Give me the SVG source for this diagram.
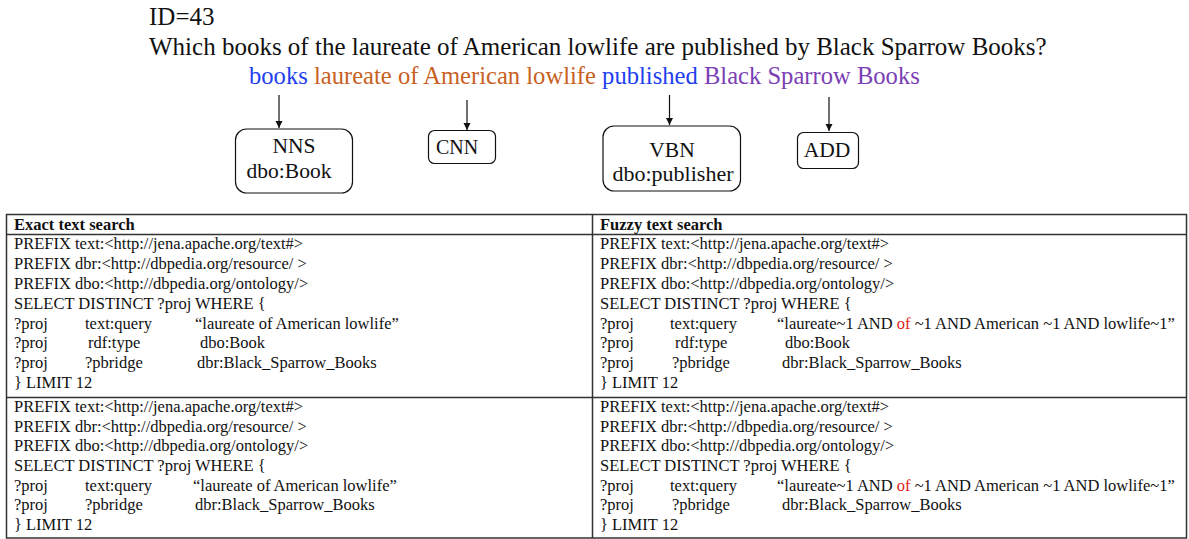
<svg xmlns="http://www.w3.org/2000/svg" width="1189" height="539" viewBox="0 0 1189 539">
  <style>
    text { font-family: "Liberation Serif", "Times New Roman", serif; fill: #111; }
    .title { font-size: 25px; }
    .tok { font-size: 24.6px; }
    .lbl { font-size: 21.5px; text-anchor: middle; }
    .box { fill: #fff; stroke: #111; stroke-width: 1.2; }
    .edge { stroke: #111; stroke-width: 1.2; fill: none; }
    .grid { stroke: #333; stroke-width: 1.5; fill: none; }
    .hd { font-size: 16.5px; font-weight: bold; }
    .q { font-size: 16.5px; }
    .red { fill: #e0201b; }
  </style>
  <defs>
    <marker id="arrow" viewBox="0 0 10 10" refX="10" refY="5" markerWidth="7" markerHeight="8" markerUnits="userSpaceOnUse" orient="auto">
      <path d="M0,0 L10,5 L0,10 Z" fill="#111"/>
    </marker>
  </defs>

  <!-- heading -->
  <text class="title" x="149" y="25">ID=43</text>
  <text class="title" x="149" y="55">Which books of the laureate of American lowlife are published by Black Sparrow Books?</text>
  <text class="tok" x="249" y="84"><tspan fill="#1f3ff0">books</tspan> <tspan fill="#c8611f">laureate of American lowlife</tspan> <tspan fill="#1f3ff0">published</tspan> <tspan fill="#7b40b4">Black Sparrow Books</tspan></text>

  <!-- connectors -->
  <g id="connectors">
    <line class="edge" x1="279" y1="95" x2="279" y2="128" marker-end="url(#arrow)"/>
    <line class="edge" x1="467" y1="100" x2="467" y2="130" marker-end="url(#arrow)"/>
    <line class="edge" x1="669.5" y1="95" x2="669.5" y2="125" marker-end="url(#arrow)"/>
    <line class="edge" x1="829" y1="97" x2="829" y2="131" marker-end="url(#arrow)"/>
  </g>

  <!-- nodes -->
  <g id="node-nns">
    <rect class="box" x="235.5" y="129" width="117" height="64" rx="11"/>
    <text class="lbl" x="294" y="153">NNS</text>
    <text class="lbl" x="289" y="178">dbo:Book</text>
  </g>
  <g id="node-cnn">
    <rect class="box" x="428.5" y="130.5" width="67" height="33" rx="6"/>
    <text class="lbl" x="457" y="154" style="font-size:20px">CNN</text>
  </g>
  <g id="node-vbn">
    <rect class="box" x="603" y="126" width="137.5" height="65" rx="11"/>
    <text class="lbl" x="672" y="157">VBN</text>
    <text class="lbl" x="673" y="181" style="font-size:22px">dbo:publisher</text>
  </g>
  <g id="node-add">
    <rect class="box" x="797.5" y="132.5" width="61" height="36" rx="6"/>
    <text class="lbl" x="827" y="157">ADD</text>
  </g>

  <!-- query table -->
  <g id="table">
    <rect class="grid" x="6.5" y="214.5" width="1180" height="323.5"/>
    <line class="grid" x1="6.5" y1="234.5" x2="1186.5" y2="234.5"/>
    <line class="grid" x1="6.5" y1="397.5" x2="1186.5" y2="397.5"/>
    <line class="grid" x1="592.5" y1="214.5" x2="592.5" y2="538"/>

    <text class="hd" x="14" y="230">Exact text search</text>
    <text class="hd" x="600" y="230">Fuzzy text search</text>

    <!-- exact, with type constraint -->
    <text class="q" x="14" y="249">PREFIX text:&lt;http://jena.apache.org/text#&gt;</text>
    <text class="q" x="14" y="269">PREFIX dbr:&lt;http://dbpedia.org/resource/ &gt;</text>
    <text class="q" x="14" y="289">PREFIX dbo:&lt;http://dbpedia.org/ontology/&gt;</text>
    <text class="q" x="14" y="309">SELECT DISTINCT ?proj WHERE {</text>
    <text class="q" x="14" y="329">?proj</text><text class="q" x="85" y="329">text:query</text><text class="q" x="195" y="329">“laureate of American lowlife”</text>
    <text class="q" x="14" y="348">?proj</text><text class="q" x="88" y="348">rdf:type</text><text class="q" x="200" y="348">dbo:Book</text>
    <text class="q" x="14" y="368">?proj</text><text class="q" x="85" y="368">?pbridge</text><text class="q" x="197" y="368">dbr:Black_Sparrow_Books</text>
    <text class="q" x="14" y="388">} LIMIT 12</text>

    <!-- fuzzy, with type constraint -->
    <text class="q" x="600" y="249">PREFIX text:&lt;http://jena.apache.org/text#&gt;</text>
    <text class="q" x="600" y="269">PREFIX dbr:&lt;http://dbpedia.org/resource/ &gt;</text>
    <text class="q" x="600" y="289">PREFIX dbo:&lt;http://dbpedia.org/ontology/&gt;</text>
    <text class="q" x="600" y="309">SELECT DISTINCT ?proj WHERE {</text>
    <text class="q" x="600" y="329">?proj</text><text class="q" x="670" y="329">text:query</text><text class="q" x="777" y="329">“laureate~1 AND <tspan class="red">of</tspan> ~1 AND American ~1 AND lowlife~1”</text>
    <text class="q" x="600" y="348">?proj</text><text class="q" x="675" y="348">rdf:type</text><text class="q" x="785" y="348">dbo:Book</text>
    <text class="q" x="600" y="368">?proj</text><text class="q" x="672" y="368">?pbridge</text><text class="q" x="782" y="368">dbr:Black_Sparrow_Books</text>
    <text class="q" x="600" y="388">} LIMIT 12</text>

    <!-- exact, without type constraint -->
    <text class="q" x="14" y="412">PREFIX text:&lt;http://jena.apache.org/text#&gt;</text>
    <text class="q" x="14" y="432">PREFIX dbr:&lt;http://dbpedia.org/resource/ &gt;</text>
    <text class="q" x="14" y="451">PREFIX dbo:&lt;http://dbpedia.org/ontology/&gt;</text>
    <text class="q" x="14" y="471">SELECT DISTINCT ?proj WHERE {</text>
    <text class="q" x="14" y="491">?proj</text><text class="q" x="85" y="491">text:query</text><text class="q" x="193" y="491">“laureate of American lowlife”</text>
    <text class="q" x="14" y="510">?proj</text><text class="q" x="85" y="510">?pbridge</text><text class="q" x="195" y="510">dbr:Black_Sparrow_Books</text>
    <text class="q" x="14" y="530">} LIMIT 12</text>

    <!-- fuzzy, without type constraint -->
    <text class="q" x="600" y="412">PREFIX text:&lt;http://jena.apache.org/text#&gt;</text>
    <text class="q" x="600" y="432">PREFIX dbr:&lt;http://dbpedia.org/resource/ &gt;</text>
    <text class="q" x="600" y="451">PREFIX dbo:&lt;http://dbpedia.org/ontology/&gt;</text>
    <text class="q" x="600" y="471">SELECT DISTINCT ?proj WHERE {</text>
    <text class="q" x="600" y="491">?proj</text><text class="q" x="670" y="491">text:query</text><text class="q" x="777" y="491">“laureate~1 AND <tspan class="red">of</tspan> ~1 AND American ~1 AND lowlife~1”</text>
    <text class="q" x="600" y="510">?proj</text><text class="q" x="672" y="510">?pbridge</text><text class="q" x="782" y="510">dbr:Black_Sparrow_Books</text>
    <text class="q" x="600" y="530">} LIMIT 12</text>
  </g>
</svg>
